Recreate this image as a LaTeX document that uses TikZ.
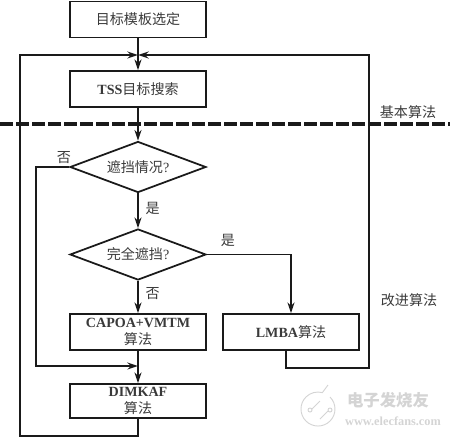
\documentclass[tikz,border=0pt]{standalone}
\usepackage{fontspec}
\setmainfont{Liberation Serif}
\newfontfamily\cjk{Noto Sans CJK SC}
\usepackage{xcolor}
\definecolor{cLine}{HTML}{1A1A1A}
\definecolor{cText}{HTML}{3A3A3A}
\definecolor{cMark}{HTML}{D4D4D4}
\usetikzlibrary{positioning,arrows.meta,shapes.geometric}
\tikzset{
  node-box/.style={draw=cLine,line width=1.5pt,minimum height=10.8mm,minimum width=40.8mm,
    inner sep=0pt,align=center,text=cText,font=\fontsize{12}{14}\selectfont},
  node-choice/.style={draw=cLine,line width=1.5pt,diamond,aspect=2.67,minimum width=40.8mm,minimum height=15.3mm,
    inner sep=0pt,align=center,text=cText,font=\fontsize{12}{14}\selectfont},
  node-tag/.style={inner sep=0pt,text=cText,font=\fontsize{12}{14}\selectfont},
  node-mark/.style={inner sep=0pt,text=cMark},
  arrow/.style={-{Stealth[length=3.2mm,width=2.1mm]},line width=1.5pt,draw=cLine},
  divider/.style={line width=1mm,draw=cLine,dash pattern=on 4mm off 0.8mm},
  mark-line/.style={draw=cMark,line width=0.8pt},
}
\begin{document}
\begin{tikzpicture}[x=0.3mm,y=-0.3mm]
  \useasboundingbox (0,0) rectangle (450,437);
  \node[node-box] at (138,19.5) (select) {\cjk 目标模板选定};
  \node[node-box] at (138,89) (tss) {\textbf{TSS}{\cjk 目标搜索}};
  \node[node-choice] at (138,167) (occluded) {{\cjk 遮挡情况}?};
  \node[node-choice] at (138,254.5) (full) {{\cjk 完全遮挡}?};
  \node[node-box] at (138,332) (capoa) {\textbf{CAPOA+VMTM}\\[1pt]{\cjk 算法}};
  \node[node-box,minimum height=10.2mm] at (138,401) (dimkaf) {\textbf{DIMKAF}\\[1pt]{\cjk 算法}};
  \node[node-box] at (291,332) (lmba) {\textbf{LMBA}{\cjk 算法}};
  \coordinate (join) at (138,55);
  \coordinate (merge) at (138,366);
  \coordinate (outerL) at (20,436);
  \coordinate (innerL) at (36,366);
  \coordinate (bottomA) at (286,368);
  \coordinate (bottomB) at (369,368);
  \coordinate (ruleL) at (0,124);
  \coordinate (ruleR) at (450,124);
  % flow
  \draw[arrow] (select) -- (tss);
  \draw[arrow] (tss) -- (occluded);
  \draw[arrow] (occluded) -- node[node-tag,right=2mm,pos=0.42]{\cjk 是} (full);
  \draw[arrow] (full) -- node[node-tag,right=2mm,pos=0.38]{\cjk 否} (capoa);
  \draw[arrow] (full.east) -| node[node-tag,pos=0.125,above=2mm]{\cjk 是} (lmba);
  \draw[arrow] (capoa) -- (dimkaf);
  % loops
  \draw[arrow] (occluded.west) -| (innerL) -- (merge);
  \draw[arrow] (dimkaf.south) |- (outerL) -- (outerL |- join) -- (join);
  \draw[arrow] (bottomA |- lmba.south) -- (bottomA) -- (bottomB) -- (bottomB |- join) -- (join);
  \node[node-tag] at (64,158) (no) {\cjk 否};
  % dividing line
  \draw[divider] (ruleL) -- (ruleR);
  \node[node-tag] at (408,112) (basic) {\cjk 基本算法};
  \node[node-tag] at (409,300) (better) {\cjk 改进算法};
  % watermark
  \draw[mark-line] (330,397) arc[start angle=-45,end angle=285,radius=17] -- (328,385);
  \draw[mark-line] (310,410) circle[radius=2] (330,410) circle[radius=2];
  \draw[mark-line] (312,409) -- (320,401) (320,419) -- (328,411);
  \node[node-mark,font=\fontsize{14}{16}\selectfont\bfseries] at (388,400) (markA) {\cjk 电子发烧友};
  \node[node-mark,font=\fontsize{10.5}{12}\selectfont\bfseries] at (393,421) (markB) {www.elecfans.com};
\end{tikzpicture}
\end{document}
